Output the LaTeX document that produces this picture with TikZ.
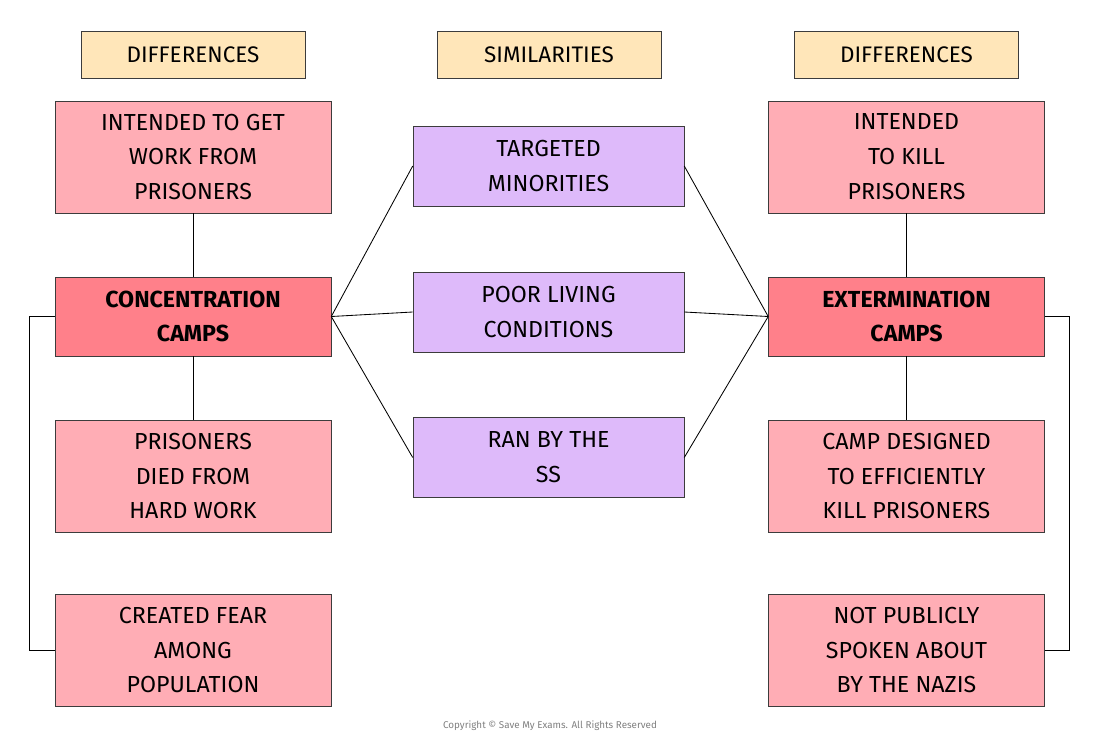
\documentclass[tikz,border=0pt]{standalone}
\usepackage{fontspec}
\setmainfont{Fira Sans}
\usetikzlibrary{positioning}
\definecolor{headyellow}{RGB}{255, 230, 185}
\definecolor{diffpink}{RGB}{255, 173, 181}
\definecolor{camppink}{RGB}{255, 128, 138}
\definecolor{simpurple}{RGB}{222, 186, 250}
\definecolor{edgegrey}{RGB}{60, 60, 60}
\begin{document}
\begin{tikzpicture}[x=0.025cm, y=-0.025cm,
        head/.style={rectangle, draw=edgegrey, fill=headyellow, minimum width=224*0.025cm, minimum height=47*0.025cm, font=\fontsize{16}{20}\selectfont},
        side/.style={rectangle, draw=edgegrey, fill=diffpink, minimum width=276*0.025cm, minimum height=112*0.025cm, align=center, font=\fontsize{16.5}{24.8}\selectfont},
        camp/.style={side, fill=camppink, minimum height=79*0.025cm, font=\bfseries\fontsize{16.5}{24.8}\selectfont},
        sim/.style={side, fill=simpurple, minimum width=271*0.025cm, minimum height=80*0.025cm},
        link/.style={draw=black, line width=0.6pt}
    ]
        \useasboundingbox (0,0) rectangle (1100,745);
        % headings
        \node[head] (hleft) at (193,54.5) {DIFFERENCES};
        \node[head] (hmid) at (549,54.5) {SIMILARITIES};
        \node[head] (hright) at (906.5,54.5) {DIFFERENCES};
        % left column
        \node[side] (lwork) at (193,157) {INTENDED TO GET\\WORK FROM\\PRISONERS};
        \node[camp] (conc) at (193,316.5) {CONCENTRATION\\CAMPS};
        \node[side] (ldied) at (193,476) {PRISONERS\\DIED FROM\\HARD WORK};
        \node[side] (lfear) at (193,650) {CREATED FEAR\\AMONG\\POPULATION};
        % middle column
        \node[sim] (target) at (548.5,166) {TARGETED\\MINORITIES};
        \node[sim] (poor) at (548.5,312) {POOR LIVING\\CONDITIONS};
        \node[sim] (ss) at (548.5,457.5) {RAN BY THE\\SS};
        % right column
        \node[side] (rkill) at (906.5,157) {INTENDED\\TO KILL\\PRISONERS};
        \node[camp] (exterm) at (906.5,316.5) {EXTERMINATION\\CAMPS};
        \node[side] (rdesign) at (906.5,476) {CAMP DESIGNED\\TO EFFICIENTLY\\KILL PRISONERS};
        \node[side] (rspoken) at (906.5,650) {NOT PUBLICLY\\SPOKEN ABOUT\\BY THE NAZIS};

        \draw[link] (lwork) -- (conc);
        \draw[link] (conc) -- (ldied);
        \draw[link] (rkill) -- (exterm);
        \draw[link] (exterm) -- (rdesign);
        \foreach \s in {target, poor, ss} {
            \draw[link] (conc.east) -- (\s.west);
            \draw[link] (exterm.west) -- (\s.east);
        }
        \draw[link] (conc.west) -- ++(-25,0) |- (lfear.west);
        \draw[link] (exterm.east) -- ++(25,0) |- (rspoken.east);

        \node[font=\fontsize{7}{8}\selectfont, text=gray] (copy) at (550,726) {Copyright © Save My Exams. All Rights Reserved};
    \end{tikzpicture}
\end{document}
